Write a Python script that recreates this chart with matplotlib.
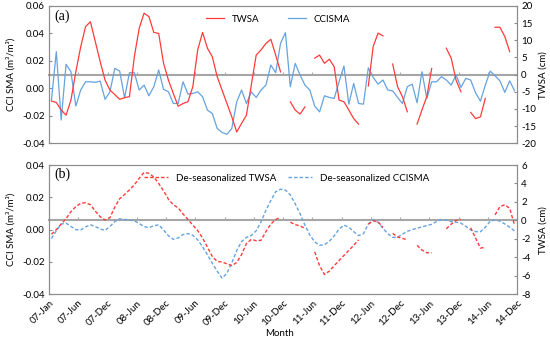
import numpy as np
import matplotlib
matplotlib.use('Agg')
from matplotlib import pyplot as plt

nan = np.nan

tick_labels = ['07-Jan', '07-Jun', '07-Dec', '08-Jun', '08-Dec', '09-Jun', '09-Dec', '10-Jun', '10-Dec',
               '11-Jun', '11-Dec', '12-Jun', '12-Dec', '13-Jun', '13-Dec', '14-Jun', '14-Dec']

# (a) monthly TWSA (cm, right axis) and CCI SMA anomaly (m3/m3, left axis)
twsa = [-7.7, -8.1, -10.3, -11.8, -7.4, 0.8, 8.1, 14.0, 15.4, 9.6, 3.8, -1.6,
        -4.5, -5.8, -7.2, -6.7, -6.4, 5.2, 13.5, 17.9, 16.9, 12.3, 12.0, 3.3,
        -1.6, -5.5, -9.2, -8.4, -7.9, -3.5, 7.2, 12.3, 7.7, 5.2, -0.6, -4.5,
        -8.4, -12.3, -16.7, -14.2, -11.8, -3.0, 5.7, 7.2, 9.1, 10.3, 5.7, 0.8,
        nan, -7.9, -10.3, -11.5, -9.4, nan, 4.8, 5.7, 3.3, 4.5, 2.3, -7.4,
        -7.9, -10.3, -12.8, -14.4, nan, -3.3, 8.2, 12.1, 11.3, nan, 3.1, -3.5,
        -6.4, -10.8, nan, -14.4, -10.3, -6.4, 1.8, nan, nan, 7.7, 4.8, -1.6,
        -5.0, nan, -11.0, -12.8, -12.3, -6.9, nan, 13.8, 13.8, 11.1, 6.7, nan]
ccisma = [-0.0085, 0.0267, -0.0231, 0.0175, 0.0121, -0.0129, -0.0012, 0.0048, 0.0048, 0.0044, 0.0053, -0.008,
          -0.0025, 0.0146, 0.0126, -0.0069, 0.0114, 0.0114, -0.0012, 0.0024, -0.0054, 0.0012, 0.0134, -0.0007,
          -0.0025, -0.011, -0.011, 0.0048, -0.0042, -0.0037, -0.0025, -0.0061, -0.0158, -0.0183, -0.0292, -0.0321,
          -0.0334, -0.0292, -0.0098, -0.0012, -0.011, -0.0025, -0.0066, -0.0012, 0.0024, 0.017, 0.0114, 0.0328,
          0.0406, 0.0012, 0.0182, 0.0097, 0.0024, -0.0012, -0.0129, -0.0171, -0.0054, -0.0066, -0.0073, 0.0048,
          0.0163, -0.0115, 0.0036, -0.011, -0.0115, 0.015, 0.008, 0.0031, 0.0061, -0.0012, -0.0018, -0.0066,
          -0.011, 0.0012, 0.0031, -0.0105, 0.0121, -0.0073, 0.0048, 0.0048, 0.0085, 0.0061, 0.0024, 0.0097,
          0.0007, 0.0073, 0.0061, -0.0032, -0.0093, 0.0024, 0.0126, 0.0092, 0.0055, -0.0029, 0.0055, -0.0018]

# (b) de-seasonalized series
twsa_ds = [-1.5, -1.0, -0.4, 0.2, 0.95, 1.5, 1.85, 1.92, 1.7, 1.0, 0.4, 0.05,
           0.3, 1.45, 2.35, 2.8, 3.3, 3.85, 4.55, 5.2, 5.1, 4.7, 4.0, 3.2,
           2.3, 1.7, 1.35, 0.7, 0.1, -0.5, -1.1, -1.9, -2.9, -3.9, -4.45, -4.5,
           -4.7, -4.9, -4.55, -3.7, -2.5, -2.05, -2.2, -2.15, -1.2, -0.4, 0.1, 0.35,
           nan, -0.2, -0.45, -0.6, -0.85, nan, -3.4, -4.9, -5.85, -5.5, -4.9, -4.35,
           -3.8, -3.25, -2.7, -2.1, nan, -0.4, -0.05, -0.15, -0.75, nan, -1.4, -1.8,
           -1.95, -2.1, nan, -2.7, -3.2, -3.5, -3.5, nan, nan, -0.9, -0.4, 0.0,
           0.1, nan, -0.8, -1.9, -3.0, -2.9, nan, 0.6, 1.5, 1.7, 1.3, -0.5]
ccisma_ds = [-0.0055, -0.0008, 0.0035, 0.004, 0.002, 0.0, -0.0002, 0.0017, 0.003, 0.0019, 0.0004, -0.0005,
             0.002, 0.005, 0.0067, 0.0063, 0.006, 0.0055, 0.0038, 0.0019, 0.0012, 0.0024, 0.003, -0.0002,
             -0.0038, -0.006, -0.0051, -0.003, -0.0024, -0.0035, -0.0063, -0.0106, -0.0155, -0.0208, -0.0257, -0.030,
             -0.027, -0.0205, -0.013, -0.0074, -0.0048, -0.0036, -0.0007, 0.0048, 0.012, 0.018, 0.0235, 0.025,
             0.0245, 0.0215, 0.016, 0.0098, 0.0028, -0.0033, -0.0075, -0.0097, -0.0093, -0.0072, -0.0038, 0.0003,
             0.0028, 0.0015, -0.0012, -0.0037, -0.0025, 0.0035, 0.0062, 0.0045, 0.0008, -0.0025, -0.0048, -0.0047,
             -0.0028, -0.001, 0.0, 0.0009, 0.0017, 0.0025, 0.0033, 0.005, 0.0063, 0.006, 0.005, 0.0046,
             0.004, 0.0021, -0.0002, -0.0012, -0.0013, 0.0015, 0.0052, 0.006, 0.0053, 0.0035, 0.0015, -0.0008]

plt.rcParams['font.family'] = ['Lato', 'DejaVu Sans']
plt.rcParams['font.size'] = 7
plt.rcParams['axes.unicode_minus'] = False

RED = '#ff3b3b'
BLUE = '#66a3de'
GREY = '#a6a6a6'
FRAME = '#8c8c8c'

x = np.arange(len(twsa)) + 0.5
ticks = np.arange(len(tick_labels)) * 6


def setupPanel(rect, yl, yr, panelLabel, showLabels):
    ax = fig.add_axes(rect)
    ax2 = ax.twinx()
    ax.set_xlim(0, ticks[-1])
    ax.set_ylim(yl[0], yl[-1])
    ax.set_yticks(yl)
    ax.set_yticklabels([f"{v:.2f}" for v in yl])
    ax2.set_ylim(yr[0], yr[-1])
    ax2.set_yticks(yr)
    ax.set_xticks(ticks)
    if showLabels:
        ax.set_xticklabels(tick_labels, rotation=45, ha='right', rotation_mode='anchor')
    else:
        ax.set_xticklabels([])
    ax.tick_params(axis='x', length=0, pad=3)
    ax.tick_params(axis='y', direction='in', length=2, color=FRAME, pad=3)
    ax2.tick_params(axis='y', direction='in', length=2, color=FRAME, pad=3)
    for a in (ax, ax2):
        for s in a.spines.values():
            s.set_color(FRAME)
            s.set_linewidth(0.8)

    # category axis crossing at TWSA = 0
    zero = (0 - yr[0]) / (yr[-1] - yr[0])
    sec = ax.secondary_xaxis(zero)
    sec.set_xticks(ticks)
    sec.set_xticklabels([])
    sec.tick_params(which='both', direction='out', length=2.5, width=0.8, color=GREY,
                    labeltop=False, labelbottom=False)
    for s in sec.spines.values():
        s.set_color(GREY)
        s.set_linewidth(1.5)

    ax.set_ylabel('CCI SMA (m³/m³)')
    ax.yaxis.set_label_coords(-0.072, 0.5)
    ax2.set_ylabel('TWSA (cm)')
    ax2.yaxis.set_label_coords(1.046, 0.5)
    ax.text(0.012, 1 - 10 / 137, panelLabel, transform=ax.transAxes, va='center',
            family='Liberation Serif', fontsize=10)
    return ax, ax2


fig = plt.figure(figsize=(5.5, 3.4), dpi=100)

# (a)
ax, ax2 = setupPanel([0.0891, 0.5785, 0.8509, 0.4039], np.arange(-0.04, 0.061, 0.02),
                     np.arange(-20, 21, 5), '(a)', False)
hb, = ax.plot(x, ccisma, color=BLUE, lw=0.9, label='CCISMA')
hr, = ax2.plot(x, twsa, color=RED, lw=0.9, label='TWSA')
ax2.legend([hr, hb], ['TWSA', 'CCISMA'], loc='upper center', bbox_to_anchor=(0.49, 1.0), ncol=2,
           frameon=False, handlelength=1.8, columnspacing=3.0, fontsize=7)

# (b)
bx, bx2 = setupPanel([0.0891, 0.1344, 0.8509, 0.3803], np.arange(-0.04, 0.041, 0.02),
                     np.arange(-8, 7, 2), '(b)', True)
hb, = bx.plot(x, ccisma_ds, color=BLUE, lw=1.0, dashes=(2.5, 1.5), label='De-seasonalized CCISMA')
hr, = bx2.plot(x, twsa_ds, color=RED, lw=1.0, dashes=(2.5, 1.5), label='De-seasonalized TWSA')
bx2.legend([hr, hb], ['De-seasonalized TWSA', 'De-seasonalized CCISMA'], loc='upper center',
           bbox_to_anchor=(0.508, 1.0), ncol=2, frameon=False, handlelength=2.5, columnspacing=1.2,
           fontsize=7)

fig.text(280 / 550, 1 - 333 / 340, 'Month', ha='center', va='center')

plt.savefig('out.png', dpi=100)
